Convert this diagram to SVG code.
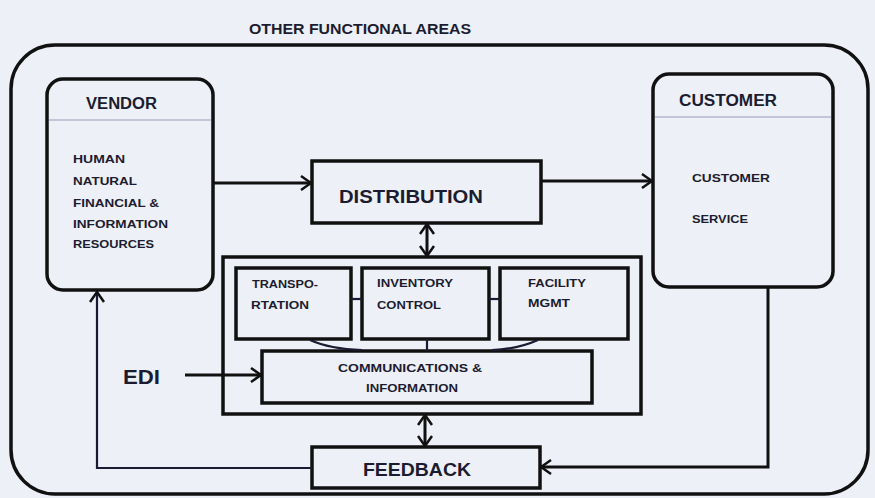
<svg xmlns="http://www.w3.org/2000/svg" width="875" height="498" viewBox="0 0 875 498">
<defs>
<style>
.bg{fill:#eef0f7}
.box{fill:none;stroke:#111;stroke-width:3.5}
.rbox{fill:none;stroke:#111;stroke-width:3.5}
.ln{fill:none;stroke:#111;stroke-width:3}
.thin{fill:none;stroke:#1a1a33;stroke-width:2.2}
.div{stroke:#9a9ab8;stroke-width:1.2}
text{font-family:"Liberation Sans",Arial,sans-serif;font-weight:bold;fill:#1c1c30}
.big{font-size:19px}
.hdr{font-size:16px}
.sm{font-size:11.5px}
</style>
<marker id="ah" viewBox="0 0 12 16" refX="11" refY="8" markerWidth="12" markerHeight="16" markerUnits="userSpaceOnUse" orient="auto-start-reverse">
<path d="M1,1 L11,8 L1,15" fill="none" stroke="#111" stroke-width="2.5"/>
</marker>
</defs>
<rect class="bg" x="0" y="0" width="875" height="498"/>
<text x="249" y="34" font-size="14" textLength="222" lengthAdjust="spacingAndGlyphs">OTHER FUNCTIONAL AREAS</text>
<g id="outer">
<rect class="rbox" x="11" y="45" width="857" height="449" rx="44"/>
</g>
<g id="vendor">
<rect class="rbox" x="47" y="79" width="166" height="211" rx="16"/>
<line class="div" x1="49" y1="120" x2="211" y2="120"/>
<text class="hdr" x="86" y="109" textLength="71" lengthAdjust="spacingAndGlyphs">VENDOR</text>
<text class="sm" x="73" y="163" textLength="52" lengthAdjust="spacingAndGlyphs">HUMAN</text>
<text class="sm" x="73" y="185" textLength="64" lengthAdjust="spacingAndGlyphs">NATURAL</text>
<text class="sm" x="73" y="207" textLength="86" lengthAdjust="spacingAndGlyphs">FINANCIAL &amp;</text>
<text class="sm" x="73" y="228" textLength="95" lengthAdjust="spacingAndGlyphs">INFORMATION</text>
<text class="sm" x="73" y="248" textLength="81" lengthAdjust="spacingAndGlyphs">RESOURCES</text>
</g>
<g id="customer">
<rect class="rbox" x="653" y="74" width="180" height="213" rx="16"/>
<line class="div" x1="655" y1="117" x2="831" y2="117"/>
<text class="hdr" x="679" y="106" textLength="98" lengthAdjust="spacingAndGlyphs">CUSTOMER</text>
<text class="sm" x="692" y="182" textLength="78" lengthAdjust="spacingAndGlyphs">CUSTOMER</text>
<text class="sm" x="692" y="223" textLength="56" lengthAdjust="spacingAndGlyphs">SERVICE</text>
</g>
<g id="distribution">
<rect class="box" x="312" y="161" width="229" height="62"/>
<text class="big" x="339" y="203" textLength="144" lengthAdjust="spacingAndGlyphs">DISTRIBUTION</text>
</g>
<g id="operations">
<rect class="box" x="223" y="257" width="418" height="157"/>
</g>
<g id="transportation">
<rect class="box" x="236" y="268" width="115" height="71"/>
<text class="sm" x="252" y="288" textLength="66" lengthAdjust="spacingAndGlyphs">TRANSPO-</text>
<text class="sm" x="251" y="309" textLength="58" lengthAdjust="spacingAndGlyphs">RTATION</text>
</g>
<g id="inventory">
<rect class="box" x="362" y="268" width="127" height="71"/>
<text class="sm" x="377" y="287" textLength="76" lengthAdjust="spacingAndGlyphs">INVENTORY</text>
<text class="sm" x="377" y="309" textLength="64" lengthAdjust="spacingAndGlyphs">CONTROL</text>
</g>
<g id="facility">
<rect class="box" x="500" y="268" width="128" height="71"/>
<text class="sm" x="528" y="287" textLength="58" lengthAdjust="spacingAndGlyphs">FACILITY</text>
<text class="sm" x="528" y="307" textLength="42" lengthAdjust="spacingAndGlyphs">MGMT</text>
</g>
<g id="communications">
<rect class="box" x="262" y="351" width="330" height="52"/>
<text class="sm" x="338" y="372" textLength="144" lengthAdjust="spacingAndGlyphs">COMMUNICATIONS &amp;</text>
<text class="sm" x="366" y="392" textLength="92" lengthAdjust="spacingAndGlyphs">INFORMATION</text>
</g>
<g id="edi">
<text x="123" y="384" font-size="20" textLength="37" lengthAdjust="spacingAndGlyphs">EDI</text>
</g>
<g id="feedback">
<rect class="box" x="312" y="447" width="228" height="41"/>
<text x="363" y="476" font-size="18" textLength="108" lengthAdjust="spacingAndGlyphs">FEEDBACK</text>
</g>
<g id="connectors">
<line class="ln" x1="213" y1="183" x2="311" y2="183" marker-end="url(#ah)"/>
<line class="ln" x1="541" y1="181" x2="652" y2="181" marker-end="url(#ah)"/>
<line class="ln" x1="427" y1="224" x2="427" y2="256" marker-start="url(#ah)" marker-end="url(#ah)"/>
<line class="ln" x1="425" y1="415" x2="425" y2="446" marker-start="url(#ah)" marker-end="url(#ah)"/>
<line class="ln" x1="185" y1="375" x2="261" y2="375" marker-end="url(#ah)"/>
<path class="thin" d="M312,468 H97 V292" marker-end="url(#ah)"/>
<path class="ln" d="M768,287 V467 H541" marker-end="url(#ah)"/>
<line class="thin" x1="351" y1="299" x2="362" y2="299"/>
<line class="thin" x1="489" y1="299" x2="500" y2="299"/>
<line class="thin" x1="427" y1="339" x2="427" y2="351"/>
<path class="thin" d="M310,340 Q330,349 362,350"/>
<path class="thin" d="M538,340 Q518,349 492,350"/>
</g>
</svg>
